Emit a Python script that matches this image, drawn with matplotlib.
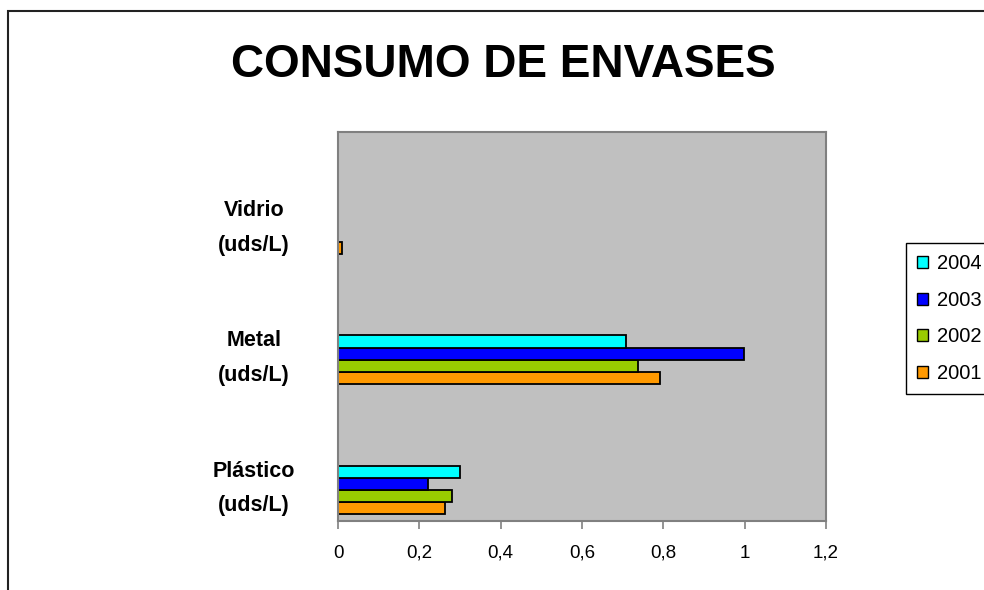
import numpy as np
import matplotlib
matplotlib.use('Agg')
import matplotlib.pyplot as plt
from matplotlib.patches import Rectangle, Patch
from matplotlib.ticker import FuncFormatter

plt.rcParams['font.family'] = ['Liberation Sans', 'DejaVu Sans']

categories = ['Plástico\n(uds/L)', 'Metal\n(uds/L)', 'Vidrio\n(uds/L)']
years = ['2001', '2002', '2003', '2004']
values = {
    '2001': [0.262, 0.792, 0.011],
    '2002': [0.281, 0.737, None],
    '2003': [0.222, 0.999, None],
    '2004': [0.300, 0.708, None],
}
colors = {'2001': '#FF9900', '2002': '#99CC00', '2003': '#0000FF', '2004': '#00FFFF'}
xticks = [0, 0.2, 0.4, 0.6, 0.8, 1.0, 1.2]

fig = plt.figure(figsize=(9.84, 5.9), dpi=100)
fig.patches.append(Rectangle((8 / 984, -0.2), 1.2, 1.2 - 11 / 590, transform=fig.transFigure,
                             fill=False, edgecolor='#222222', linewidth=1.5))

ax = fig.add_axes([338 / 984, 69 / 590, 488 / 984, 389 / 590])
ax.set_facecolor('#C0C0C0')
for s in ax.spines.values():
    s.set_color('#808080')
    s.set_linewidth(1.5)

h = 0.093
y = np.arange(len(categories))
for i, yr in enumerate(years):
    off = (i - 1.5) * h
    for j, v in enumerate(values[yr]):
        if v is None:
            continue
        ax.barh(y[j] + off, v, height=h, color=colors[yr], edgecolor='black', linewidth=1.3)

ax.set_xlim(0, 1.2)
ax.set_ylim(-0.24, 2.75)
ax.set_xticks(xticks)
ax.xaxis.set_major_formatter(FuncFormatter(lambda v, p: ('%g' % v).replace('.', ',')))
ax.tick_params(axis='x', direction='out', length=6, width=1.2, color='#808080',
               labelsize=13.5, pad=11)
ax.set_yticks(y + 0.01)
ax.set_yticklabels(categories, fontsize=15.5, fontweight='bold', linespacing=1.86)
ax.tick_params(axis='y', length=0, pad=60.5)
for t in ax.get_yticklabels():
    t.set_horizontalalignment('center')
    t.set_verticalalignment('center')

fig.text(503 / 984, 1 - 77 / 590, 'CONSUMO DE ENVASES', ha='center', va='baseline',
         fontsize=33, fontweight='bold')

handles = [Patch(facecolor=colors[yr], edgecolor='black', linewidth=1) for yr in reversed(years)]
leg = fig.legend(handles, list(reversed(years)), loc='upper left',
                 bbox_to_anchor=(906 / 984, 1 - 243 / 590), fontsize=14.5,
                 frameon=True, fancybox=False, edgecolor='black', framealpha=1,
                 handlelength=0.55, handleheight=0.55, handletextpad=0.45,
                 labelspacing=0.875, borderpad=0.55, borderaxespad=0)
leg.get_frame().set_linewidth(1)

fig.savefig('out.png', dpi=100)
